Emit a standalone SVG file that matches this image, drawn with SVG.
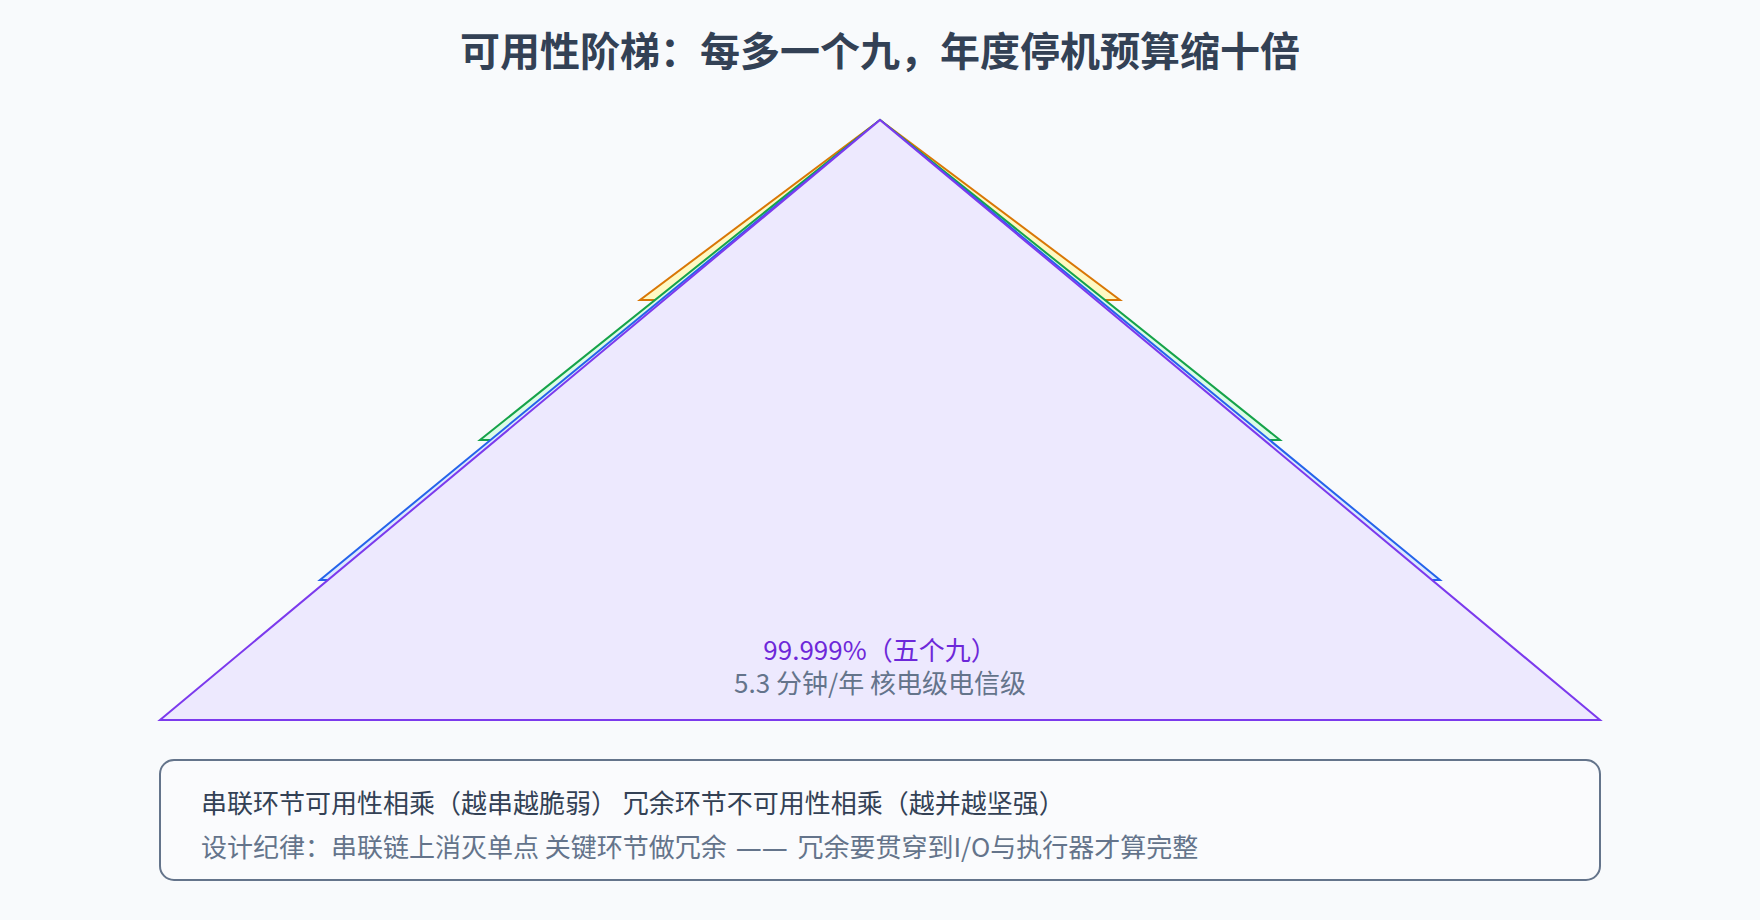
<svg xmlns="http://www.w3.org/2000/svg" width="1760" height="920" viewBox="0 0 1760 920">
<style>
  .title{font-family:"Noto Sans CJK SC","Noto Sans",sans-serif;font-size:40px;font-weight:700;fill:#334155;text-anchor:middle}
  .layer{stroke-width:2;stroke-linejoin:miter}
  .lbl{font-family:"Noto Sans CJK SC","Noto Sans",sans-serif;font-size:26px;text-anchor:middle}
  .note{font-family:"Noto Sans CJK SC","Noto Sans",sans-serif;font-size:26px}
  .dash{font-family:"DejaVu Sans","Noto Sans CJK SC",sans-serif}
</style>
<rect x="0" y="0" width="1760" height="920" fill="#f8fafc"/>
<text class="title" x="880" y="66">可用性阶梯：每多一个九，年度停机预算缩十倍</text>
<g id="layer-3nines">
  <polygon class="layer" points="880,120 640,300 1120,300" fill="#fef9c3" stroke="#d97706"/>
</g>
<g id="layer-4nines">
  <polygon class="layer" points="880,120 480,440 1280,440" fill="#dcfce7" stroke="#16a34a"/>
</g>
<g id="layer-4nines5">
  <polygon class="layer" points="880,120 320,580 1440,580" fill="#dbeafe" stroke="#2563eb"/>
</g>
<g id="layer-5nines">
  <polygon class="layer" points="880,120 160,720 1600,720" fill="#ede9fe" stroke="#7c3aed"/>
  <text class="lbl" x="880" y="660" fill="#6d28d9">99.999%（五个九）</text>
  <text class="lbl" x="880" y="693" fill="#64748b">5.3 分钟/年 核电级电信级</text>
</g>
<g id="note">
  <rect x="160" y="760" width="1440" height="120" rx="14" fill="#fafbfd" stroke="#64748b" stroke-width="2"/>
  <text class="note" x="201" y="813" fill="#334155">串联环节可用性相乘（越串越脆弱） 冗余环节不可用性相乘（越并越坚强）</text>
  <text class="note" x="201" y="857" fill="#64748b">设计纪律：串联链上消灭单点 关键环节做冗余 <tspan class="dash" dx="3">——</tspan><tspan dx="4"> 冗余要贯穿到I/O与执行器才算完整</tspan></text>
</g>
<g id="connectors"></g>
</svg>
